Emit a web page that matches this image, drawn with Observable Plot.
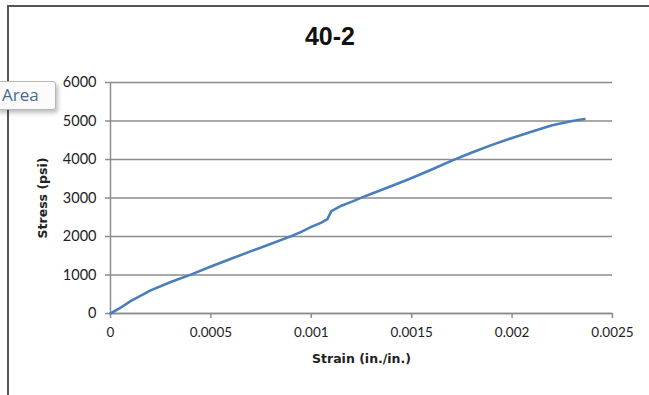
<!DOCTYPE html>
<html>
<head>
<meta charset="utf-8">
<script src="https://cdn.jsdelivr.net/npm/d3@7"></script>
<script src="https://cdn.jsdelivr.net/npm/@observablehq/plot@0.6"></script>
<style>
  html, body { margin: 0; padding: 0; background: #fff; }
  #wrap { position: relative; width: 649px; height: 395px; overflow: hidden; font-family: Lato, "Open Sans", sans-serif; }
  #chart { position: absolute; left: 0; top: 0; }
  .title { position: absolute; left: 0; width: 660px; top: 22px; text-align: center; font: bold 25px "Liberation Sans", Arial, sans-serif; color: #111; }
  .bl { position: absolute; left: 7px; top: 6px; width: 2px; height: 400px; background: #555; }
  .bt { position: absolute; left: 7px; top: 5px; width: 660px; height: 2px; background: #555; }
  .tip { position: absolute; left: -4px; top: 81px; width: 58px; height: 27px; border: 1px solid #b8b8b8; border-radius: 3px; background: #fbfbfb; box-shadow: 2px 3px 4px rgba(0,0,0,0.25); font: 17px "Open Sans", sans-serif; color: #4a6a90; line-height: 26px; }
  .tip span { margin-left: 5px; }
</style>
</head>
<body>
<div id="wrap">
  <div class="bl"></div>
  <div class="bt"></div>
  <div id="chart"></div>
  <div class="title">40-2</div>
  <div class="tip"><span>Area</span></div>
</div>
<script>
const strain = [0, 0.00005, 0.0001, 0.0002, 0.0003, 0.0004, 0.0005, 0.0006, 0.0007, 0.0008, 0.0009, 0.00095, 0.001, 0.00105, 0.00108, 0.0011, 0.00115, 0.0012, 0.00125, 0.0013, 0.0014, 0.0015, 0.0016, 0.0017, 0.0018, 0.0019, 0.002, 0.0021, 0.0022, 0.0023, 0.00236];
const stress = [0, 150, 320, 600, 820, 1010, 1220, 1420, 1620, 1810, 2010, 2120, 2250, 2360, 2450, 2660, 2800, 2900, 3010, 3110, 3310, 3520, 3740, 3970, 4180, 4380, 4560, 4730, 4890, 5000, 5050];
const xTicks = [0, 0.0005, 0.001, 0.0015, 0.002, 0.0025];
const xTickLabels = ["0", "0.0005", "0.001", "0.0015", "0.002", "0.0025"];
const yTicks = [0, 1000, 2000, 3000, 4000, 5000, 6000];
const xLabel = "Strain (in./in.)";
const yLabel = "Stress (psi)";

const data = strain.map((s, i) => ({strain: s, stress: stress[i]}));

const plot = Plot.plot({
  width: 649,
  height: 395,
  marginLeft: 110,
  marginRight: 37,
  marginTop: 82,
  marginBottom: 82,
  style: { fontFamily: "Lato, 'Open Sans', sans-serif", fontSize: "13.5px", color: "#222", background: "transparent", overflow: "visible" },
  x: { domain: [0, 0.0025] },
  y: { domain: [0, 6000] },
  marks: [
    Plot.gridY(yTicks, { stroke: "#8c8c8c", strokeOpacity: 1, strokeWidth: 1.5 }),
    Plot.ruleX([0], { stroke: "#8c8c8c", strokeWidth: 1.5 }),
    Plot.ruleY([0], { stroke: "#8c8c8c", strokeWidth: 1.5 }),
    Plot.axisY({ ticks: yTicks, tickSize: 5, tickPadding: 9, fontSize: 14.5, stroke: "#8c8c8c", strokeWidth: 1.5, tickFormat: d => String(d), label: null }),
    Plot.axisX({ ticks: xTicks, tickSize: 5, tickPadding: 9, fontSize: 13.5, stroke: "#8c8c8c", strokeWidth: 1.5, tickFormat: (d, i) => xTickLabels[i], label: null }),
    Plot.text([xLabel], { frameAnchor: "bottom", dy: 49, fontFamily: "DejaVu Sans", fontWeight: "bold", fontSize: 12.5, fill: "#222" }),
    Plot.text([yLabel], { frameAnchor: "left", textAnchor: "middle", dx: -68, rotate: -90, fontFamily: "DejaVu Sans", fontWeight: "bold", fontSize: 12.5, fill: "#222" }),
    Plot.line(data, { x: "strain", y: "stress", stroke: "#4a7ebb", strokeWidth: 2.6, curve: "linear" })
  ]
});
document.getElementById("chart").appendChild(plot);
</script>
</body>
</html>
